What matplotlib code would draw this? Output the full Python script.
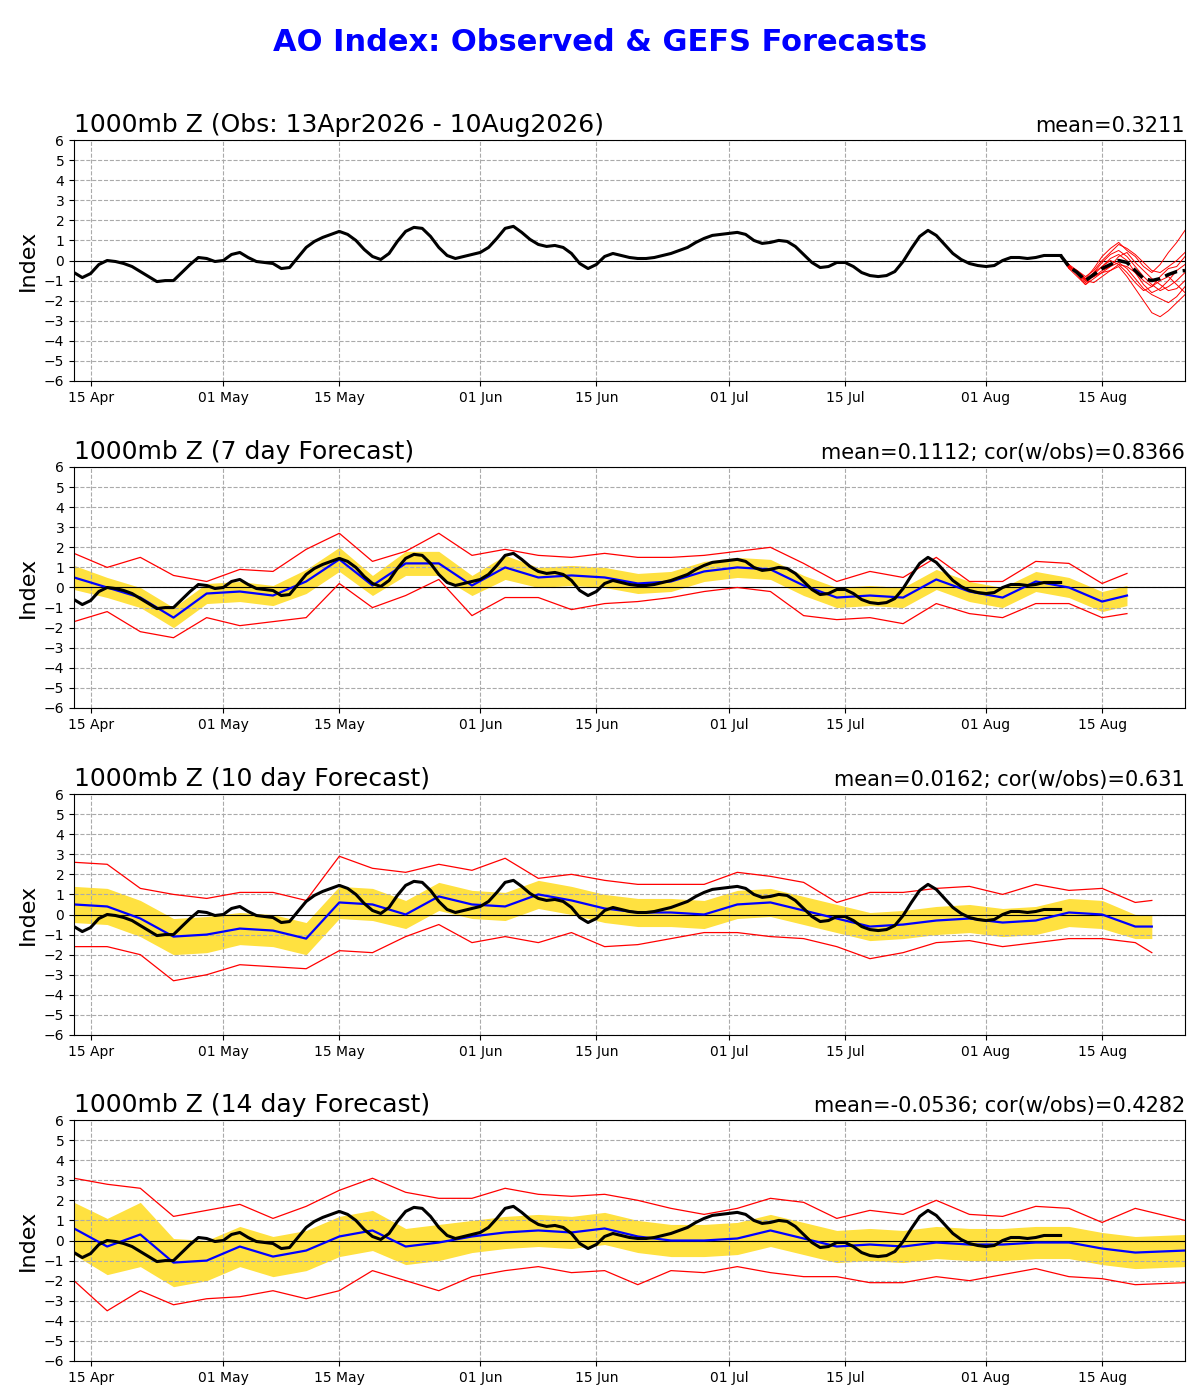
import numpy as np
import matplotlib.pyplot as plt

# observed AO, daily from 13 Apr 2026 (day 0) to 10 Aug 2026 (day 119)
obs = [-0.6, -0.85, -0.65, -0.2, 0.0, -0.05, -0.15, -0.3, -0.55, -0.8,
       -1.05, -1.0, -1.0, -0.6, -0.2, 0.15, 0.1, -0.05, 0.0, 0.3,
       0.4, 0.15, -0.05, -0.1, -0.15, -0.4, -0.35, 0.15, 0.65, 0.95,
       1.15, 1.3, 1.45, 1.3, 1.0, 0.55, 0.2, 0.05, 0.35, 0.95,
       1.45, 1.65, 1.6, 1.2, 0.65, 0.25, 0.1, 0.2, 0.3, 0.4,
       0.65, 1.1, 1.6, 1.7, 1.4, 1.05, 0.8, 0.7, 0.75, 0.65,
       0.35, -0.15, -0.4, -0.2, 0.2, 0.35, 0.25, 0.15, 0.1, 0.1,
       0.15, 0.25, 0.35, 0.5, 0.65, 0.9, 1.1, 1.25, 1.3, 1.35,
       1.4, 1.3, 1.0, 0.85, 0.9, 1.0, 0.95, 0.7, 0.3, -0.1,
       -0.35, -0.3, -0.1, -0.1, -0.3, -0.6, -0.75, -0.8, -0.75, -0.55,
       -0.05, 0.6, 1.2, 1.5, 1.25, 0.8, 0.35, 0.05, -0.15, -0.25,
       -0.3, -0.25, 0.0, 0.15, 0.15, 0.1, 0.15, 0.25, 0.25, 0.25]

# GEFS members, days 119..134
ens_days = list(range(119, 135))
ens_mean = [0.25, -0.3, -0.6, -1.0, -0.7, -0.4, -0.2, 0.0, -0.1, -0.5, -0.9, -1.0, -0.9, -0.7, -0.55, -0.5]
members = [
    [0.25, -0.2, -0.5, -0.9, -0.4, 0.2, 0.6, 0.9, 0.5, 0.2, -0.3, -0.6, -0.2, 0.4, 0.9, 1.5],
    [0.25, -0.4, -0.8, -1.2, -0.9, -0.6, -0.5, -0.3, -0.8, -1.4, -2.0, -2.6, -2.8, -2.5, -2.1, -1.7],
    [0.25, -0.3, -0.6, -1.1, -0.6, -0.1, 0.3, 0.5, 0.2, -0.3, -0.8, -1.2, -1.5, -1.3, -1.0, -0.6],
    [0.25, -0.2, -0.7, -0.9, -0.8, -0.5, -0.3, -0.1, -0.4, -0.9, -1.4, -1.7, -1.9, -2.1, -1.8, -1.3],
    [0.25, -0.35, -0.5, -0.8, -0.5, 0.0, 0.4, 0.8, 0.6, 0.3, -0.1, -0.5, -0.6, -0.3, 0.0, 0.4],
    [0.25, -0.3, -0.6, -1.0, -1.1, -0.8, -0.5, -0.2, -0.3, -0.6, -1.0, -1.3, -1.0, -0.8, -1.2, -1.6],
    [0.25, -0.25, -0.7, -1.2, -0.7, -0.3, 0.1, 0.3, 0.0, -0.6, -1.2, -1.6, -1.4, -1.0, -0.5, -0.2],
    [0.25, -0.4, -0.6, -1.0, -0.8, -0.6, -0.3, 0.2, 0.4, -0.1, -0.5, -0.9, -1.2, -1.5, -1.4, -1.0],
    [0.25, -0.3, -0.55, -0.95, -0.6, -0.3, 0.0, -0.2, -0.6, -1.1, -1.5, -1.3, -0.8, -0.4, -0.3, 0.2],
]

# forecast panels: days, blue mean, band half-width, red upper, red lower
f7_days = list(range(0, 128, 4)) + [127]
f7_mean = [0.5, 0.0, -0.5, -1.5, -0.3, -0.2, -0.4, 0.3, 1.4, 0.1, 1.2, 1.2, 0.1, 1.0, 0.5, 0.6,
           0.5, 0.2, 0.3, 0.8, 1.0, 0.9, 0.1, -0.5, -0.4, -0.5, 0.4, -0.2, -0.5, 0.3, 0.0, -0.7, -0.4]
f7_hw = [0.6, 0.5, 0.5, 0.5, 0.5, 0.5, 0.5, 0.6, 0.6, 0.5, 0.6, 0.6, 0.5, 0.6, 0.5, 0.5,
         0.5, 0.5, 0.5, 0.5, 0.5, 0.5, 0.5, 0.5, 0.5, 0.5, 0.5, 0.5, 0.5, 0.5, 0.5, 0.5, 0.5]
f7_hi = [1.7, 1.0, 1.5, 0.6, 0.3, 0.9, 0.8, 1.9, 2.7, 1.3, 1.8, 2.7, 1.6, 1.9, 1.6, 1.5,
         1.7, 1.5, 1.5, 1.6, 1.8, 2.0, 1.2, 0.3, 0.8, 0.5, 1.5, 0.3, 0.3, 1.3, 1.2, 0.2, 0.7]
f7_lo = [-1.7, -1.2, -2.2, -2.5, -1.5, -1.9, -1.7, -1.5, 0.2, -1.0, -0.4, 0.4, -1.4, -0.5, -0.5, -1.1,
         -0.8, -0.7, -0.5, -0.2, 0.0, -0.2, -1.4, -1.6, -1.5, -1.8, -0.8, -1.3, -1.5, -0.8, -0.8, -1.5, -1.3]

f10_days = list(range(0, 132, 4)) + [130]
f10_mean = [0.5, 0.4, -0.2, -1.1, -1.0, -0.7, -0.8, -1.2, 0.6, 0.5, 0.0, 0.9, 0.5, 0.4, 1.0, 0.7,
            0.3, 0.1, 0.1, 0.0, 0.5, 0.6, 0.2, -0.2, -0.6, -0.5, -0.3, -0.2, -0.4, -0.3, 0.1, 0.0, -0.6, -0.6]
f10_hw = [0.9, 0.9, 0.9, 0.9, 0.9, 0.8, 0.8, 0.8, 0.8, 0.8, 0.7, 0.7, 0.7, 0.7, 0.7, 0.7,
          0.7, 0.7, 0.7, 0.7, 0.7, 0.7, 0.7, 0.7, 0.7, 0.7, 0.7, 0.7, 0.7, 0.7, 0.7, 0.7, 0.6, 0.6]
f10_hi = [2.6, 2.5, 1.3, 1.0, 0.8, 1.1, 1.1, 0.7, 2.9, 2.3, 2.1, 2.5, 2.2, 2.8, 1.8, 2.0,
          1.7, 1.5, 1.5, 1.5, 2.1, 1.9, 1.6, 0.6, 1.1, 1.1, 1.3, 1.4, 1.0, 1.5, 1.2, 1.3, 0.6, 0.7]
f10_lo = [-1.6, -1.6, -2.0, -3.3, -3.0, -2.5, -2.6, -2.7, -1.8, -1.9, -1.1, -0.5, -1.4, -1.1, -1.4, -0.9,
          -1.6, -1.5, -1.2, -0.9, -0.9, -1.1, -1.2, -1.6, -2.2, -1.9, -1.4, -1.3, -1.6, -1.4, -1.2, -1.2, -1.4, -1.9]

f14_days = list(range(0, 132, 4)) + [134]
f14_mean = [0.6, -0.3, 0.3, -1.1, -1.0, -0.3, -0.8, -0.5, 0.2, 0.5, -0.3, -0.1, 0.2, 0.4, 0.5, 0.4,
            0.6, 0.2, 0.0, 0.0, 0.1, 0.5, 0.1, -0.3, -0.2, -0.3, -0.1, -0.2, -0.2, -0.1, -0.1, -0.4, -0.6, -0.5]
f14_hw = [1.3, 1.4, 1.6, 1.2, 1.0, 1.0, 1.0, 1.0, 1.0, 1.0, 0.9, 0.9, 0.8, 0.8, 0.8, 0.8,
          0.8, 0.8, 0.8, 0.8, 0.8, 0.8, 0.8, 0.8, 0.8, 0.8, 0.8, 0.8, 0.8, 0.8, 0.8, 0.8, 0.8, 0.8]
f14_hi = [3.1, 2.8, 2.6, 1.2, 1.5, 1.8, 1.1, 1.7, 2.5, 3.1, 2.4, 2.1, 2.1, 2.6, 2.3, 2.2,
          2.3, 2.0, 1.6, 1.3, 1.6, 2.1, 1.9, 1.1, 1.5, 1.3, 2.0, 1.3, 1.2, 1.7, 1.6, 0.9, 1.6, 1.0]
f14_lo = [-2.0, -3.5, -2.5, -3.2, -2.9, -2.8, -2.5, -2.9, -2.5, -1.5, -2.0, -2.5, -1.8, -1.5, -1.3, -1.6,
          -1.5, -2.2, -1.5, -1.6, -1.3, -1.6, -1.8, -1.8, -2.1, -2.1, -1.8, -2.0, -1.7, -1.4, -1.8, -1.9, -2.2, -2.1]

tick_days = [2, 18, 32, 49, 63, 79, 93, 110, 124]
tick_labels = ['15 Apr', '01 May', '15 May', '01 Jun', '15 Jun', '01 Jul', '15 Jul', '01 Aug', '15 Aug']

titles = ['1000mb Z (Obs: 13Apr2026 - 10Aug2026)', '1000mb Z (7 day Forecast)',
          '1000mb Z (10 day Forecast)', '1000mb Z (14 day Forecast)']
right_titles = ['mean=0.3211', 'mean=0.1112; cor(w/obs)=0.8366',
                'mean=0.0162; cor(w/obs)=0.631', 'mean=-0.0536; cor(w/obs)=0.4282']

fig = plt.figure(figsize=(12, 14), dpi=100)
fig.suptitle('AO Index: Observed & GEFS Forecasts', color='blue', fontsize=22,
             fontweight='bold', y=0.98)

tops = [140, 467, 794, 1120]
axes = []
for top in tops:
    ax = fig.add_axes([74 / 1200, 1 - (top + 241) / 1400, 1111 / 1200, 241 / 1400])
    axes.append(ax)

obs_days = np.arange(len(obs))
fc = [(f7_days, f7_mean, f7_hw, f7_hi, f7_lo),
      (f10_days, f10_mean, f10_hw, f10_hi, f10_lo),
      (f14_days, f14_mean, f14_hw, f14_hi, f14_lo)]

for i, ax in enumerate(axes):
    ax.axhline(0, color='black', lw=0.8)
    if i == 0:
        for m in members:
            ax.plot(ens_days, m, color='red', lw=0.7)
        ax.plot(ens_days, ens_mean, color='black', lw=2.5, ls='--')
    else:
        days, mean, hw, hi, lo = fc[i - 1]
        mean = np.array(mean)
        hw = np.array(hw)
        ax.fill_between(days, mean - hw, mean + hw, color='#ffd700', alpha=0.75, lw=0)
        ax.plot(days, hi, color='red', lw=0.9)
        ax.plot(days, lo, color='red', lw=0.9)
        ax.plot(days, mean, color='blue', lw=1.6)
    ax.plot(obs_days, obs, color='black', lw=2.2)
    ax.set_xlim(0, 134)
    ax.set_ylim(-6, 6)
    ax.set_yticks(range(-6, 7))
    ax.set_xticks(tick_days)
    ax.set_xticklabels(tick_labels)
    ax.tick_params(labelsize=10)
    ax.grid(True, ls='--', color='#aaaaaa', lw=0.8)
    ax.set_ylabel('Index', fontsize=16)
    ax.set_title(titles[i], loc='left', fontsize=18)
    ax.set_title(right_titles[i], loc='right', fontsize=15)

fig.savefig('out.png', dpi=100)
